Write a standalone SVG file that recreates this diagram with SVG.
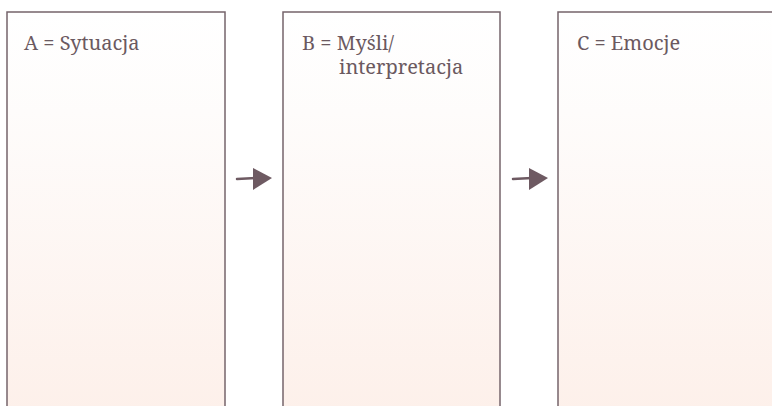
<svg xmlns="http://www.w3.org/2000/svg" width="772" height="406" viewBox="0 0 772 406">
  <defs>
    <linearGradient id="panelFill" x1="0" y1="0" x2="0" y2="1">
      <stop offset="0" stop-color="#ffffff"/>
      <stop offset="0.25" stop-color="#fefcfb"/>
      <stop offset="1" stop-color="#fdf0ea"/>
    </linearGradient>
    <style>
      .panel { fill: url(#panelFill); stroke: #75646b; stroke-width: 1.5; }
      .label { font-family: 'Noto Serif', 'DejaVu Serif', serif; font-size: 20px; fill: #6b5960; }
      .shaft { stroke: #6e5a62; stroke-width: 2.5; fill: none; stroke-linecap: round; }
      .head { fill: #6e5a62; }
    </style>
  </defs>
  <rect width="772" height="406" fill="#ffffff"/>

  <g id="node-a">
    <rect class="panel" x="7" y="12" width="218" height="400"/>
    <text class="label" x="24" y="50">A = Sytuacja</text>
  </g>

  <g id="node-b">
    <rect class="panel" x="283" y="12" width="217" height="400"/>
    <text class="label" x="302" y="50">B = Myśli/</text>
    <text class="label" x="339" y="74">interpretacja</text>
  </g>

  <g id="node-c">
    <rect class="panel" x="558" y="12" width="220" height="400"/>
    <text class="label" x="577" y="50">C = Emocje</text>
  </g>

  <g id="connectors">
    <path class="shaft" d="M237 179 L256 178"/>
    <polygon class="head" points="253,168 272,178 253,190"/>
    <path class="shaft" d="M513 179 L532 178"/>
    <polygon class="head" points="529,168 548,178 529,190"/>
  </g>
</svg>
